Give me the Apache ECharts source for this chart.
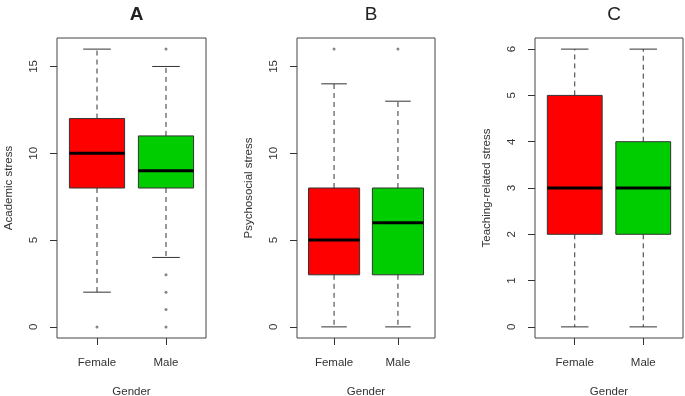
<!DOCTYPE html>
<html>
<head>
<meta charset="utf-8">
<script src="https://cdn.jsdelivr.net/npm/echarts@6/dist/echarts.min.js"></script>
<style>
  html, body { margin: 0; padding: 0; background: #fff; }
  #chart { width: 685px; height: 396px; }
</style>
</head>
<body>
<div id="chart"></div>
<script>
// five-number summaries per gender: [lower whisker, Q1, median, Q3, upper whisker]
const categories = ['Female', 'Male']
const academicBox = [[2, 8, 10, 12, 16], [4, 8, 9, 11, 15]]
const academicOut = [[1, 0], [2, 16], [2, 3], [2, 2], [2, 1], [2, 0]]
const psychoBox = [[0, 3, 5, 8, 14], [0, 3, 6, 8, 13]]
const psychoOut = [[1, 16], [2, 16]]
const teachingBox = [[0, 2, 3, 5, 6], [0, 2, 3, 4, 6]]
const teachingOut = []
const ticks15 = [0, 5, 10, 15]
const ticks6 = [0, 1, 2, 3, 4, 5, 6]
const panelTitles = ['A', 'B', 'C']
const yNames = ['Academic stress', 'Psychosocial stress', 'Teaching-related stress']
const COLORS = ['#ff0000', '#00cd00']
const FONT = 'Liberation Sans, Arial, sans-serif'
const INK = '#333'

const grids = [
  { left: 57, top: 38, width: 149, height: 300 },
  { left: 297, top: 38, width: 138, height: 300 },
  { left: 535, top: 38, width: 148, height: 300 },
]
const panels = [
  { box: academicBox, out: academicOut, ticks: ticks15, min: -0.64, max: 16.64 },
  { box: psychoBox, out: psychoOut, ticks: ticks15, min: -0.64, max: 16.64 },
  { box: teachingBox, out: teachingOut, ticks: ticks6, min: -0.24, max: 6.24 },
]

function renderBox(params, api) {
  const x = api.value(0)
  const [lo, q1, med, q3, hi] = [1, 2, 3, 4, 5].map((i) => api.value(i))
  const half = api.size([0.8, 0])[0] / 2
  const cap = api.size([0.4, 0])[0] / 2
  const p = (v) => api.coord([x, v])
  const cx = p(med)[0]
  const yLo = p(lo)[1], yQ1 = p(q1)[1], yMed = p(med)[1], yQ3 = p(q3)[1], yHi = p(hi)[1]
  const dashed = { stroke: INK, lineWidth: 1, lineDash: [5, 4] }
  const solid = { stroke: INK, lineWidth: 1 }
  return {
    type: 'group',
    children: [
      { type: 'line', shape: { x1: cx, y1: yQ3, x2: cx, y2: yHi }, style: dashed },
      { type: 'line', shape: { x1: cx, y1: yQ1, x2: cx, y2: yLo }, style: dashed },
      { type: 'line', shape: { x1: cx - cap, y1: yHi, x2: cx + cap, y2: yHi }, style: solid },
      { type: 'line', shape: { x1: cx - cap, y1: yLo, x2: cx + cap, y2: yLo }, style: solid },
      { type: 'rect', shape: { x: cx - half, y: yQ3, width: half * 2, height: yQ1 - yQ3 },
        style: { fill: COLORS[params.dataIndex], stroke: INK, lineWidth: 1 } },
      { type: 'line', shape: { x1: cx - half, y1: yMed, x2: cx + half, y2: yMed },
        style: { stroke: '#000', lineWidth: 3 } },
    ],
  }
}

const chart = echarts.init(document.getElementById('chart'), null, { renderer: 'canvas' })

chart.setOption({
  animation: false,
  title: panelTitles.map((t, i) => ({
    text: t,
    left: grids[i].left + grids[i].width / 2,
    top: 0,
    textAlign: 'center',
    textStyle: { fontFamily: FONT, fontSize: 19, fontWeight: i === 0 ? 'bold' : 'normal', color: '#222' },
  })),
  grid: grids.map((g) => ({
    ...g, show: true, borderColor: '#444', borderWidth: 1, backgroundColor: 'transparent',
    containLabel: false, outerBoundsMode: 'none',
  })),
  xAxis: panels.map((p, i) => ({
    type: 'value', gridIndex: i, min: 0.42, max: 2.58,
    name: 'Gender', nameLocation: 'middle', nameGap: 48,
    nameTextStyle: { fontFamily: FONT, fontSize: 11.5, color: INK },
    axisLine: { show: false, onZero: false },
    splitLine: { show: false },
    axisTick: { show: true, length: 7, customValues: [1, 2], lineStyle: { color: INK } },
    axisLabel: {
      customValues: [1, 2], margin: 19,
      formatter: (v) => categories[Math.round(v) - 1],
      fontFamily: FONT, fontSize: 11.5, color: INK,
    },
  })),
  yAxis: panels.map((p, i) => ({
    type: 'value', gridIndex: i, min: p.min, max: p.max,
    name: yNames[i], nameLocation: 'middle', nameGap: 42,
    nameTextStyle: { fontFamily: FONT, fontSize: 11.5, color: INK },
    axisLine: { show: false, onZero: false },
    splitLine: { show: false },
    axisTick: { show: true, length: 7, customValues: p.ticks, lineStyle: { color: INK } },
    axisLabel: {
      customValues: p.ticks, rotate: 90, margin: 17,
      fontFamily: FONT, fontSize: 11.5, color: INK,
    },
  })),
  series: panels.flatMap((p, i) => [
    {
      type: 'custom', xAxisIndex: i, yAxisIndex: i,
      renderItem: renderBox,
      encode: { x: 0, y: [1, 2, 3, 4, 5] },
      data: p.box.map((b, k) => [k + 1, ...b]),
    },
    {
      type: 'scatter', xAxisIndex: i, yAxisIndex: i,
      symbol: 'circle', symbolSize: 3,
      itemStyle: { color: '#666' },
      data: p.out,
    },
  ]),
})
</script>
</body>
</html>
